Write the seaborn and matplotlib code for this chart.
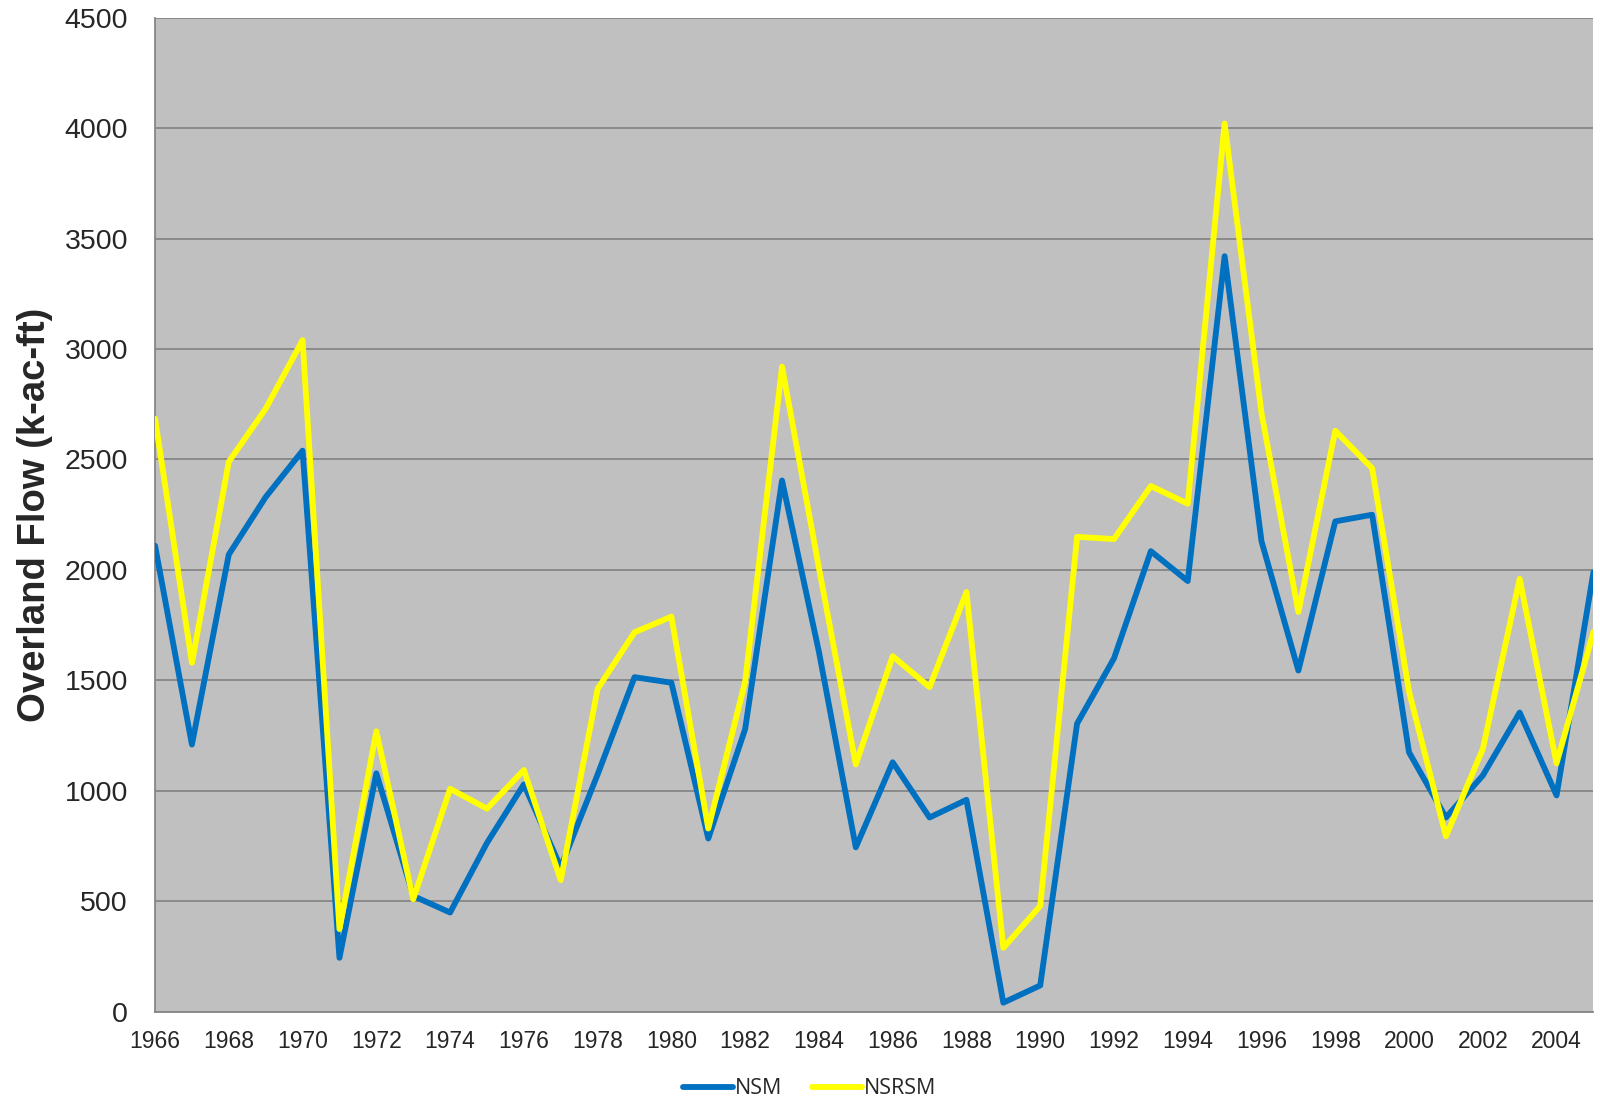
import matplotlib
matplotlib.use("Agg")
import matplotlib.pyplot as plt
import seaborn as sns
import pandas as pd
from matplotlib.lines import Line2D

# Annual overland flow, thousand acre-feet
years = list(range(1966, 2006))
nsm = [2110, 1210, 2070, 2330, 2540, 245, 1080, 525, 450, 765,
       1030, 655, 1075, 1515, 1490, 785, 1280, 2405, 1630, 745,
       1130, 880, 960, 42, 120, 1305, 1600, 2085, 1950, 3420,
       2130, 1545, 2220, 2250, 1175, 880, 1070, 1355, 980, 1990]
nsrsm = [2685, 1580, 2490, 2730, 3040, 375, 1270, 510, 1010, 920,
         1095, 597, 1462, 1718, 1789, 830, 1495, 2920, 2010, 1120,
         1610, 1470, 1900, 290, 480, 2150, 2140, 2380, 2300, 4020,
         2710, 1810, 2630, 2460, 1450, 795, 1190, 1960, 1125, 1720]
series_names = ["NSM", "NSRSM"]
series_colors = ["#0070C0", "#FFFF00"]
y_ticks = list(range(0, 4501, 500))
x_label_years = list(range(1966, 2005, 2))

df = pd.DataFrame({
    "Year": years * 2,
    "Flow": nsm + nsrsm,
    "Series": [series_names[0]] * len(years) + [series_names[1]] * len(years),
})

sns.set_style("white", {"axes.facecolor": "#C0C0C0"})
plt.rcParams["font.family"] = ["Liberation Sans", "DejaVu Sans"]

fig = plt.figure(figsize=(16, 11.02), dpi=100)
ax = fig.add_axes([0.0969, 0.0817, 0.899, 0.9024])
ax.set_facecolor("#C0C0C0")

sns.lineplot(data=df, x="Year", y="Flow", hue="Series",
             palette=dict(zip(series_names, series_colors)),
             linewidth=4.2, ax=ax, legend=False, zorder=3)

ax.set_xlim(1966, 2005)
ax.set_ylim(0, 4500)
ax.set_yticks(y_ticks)
ax.set_yticklabels([str(v) for v in y_ticks], fontsize=20.5)
ax.set_xticks(years, minor=True)
ax.set_xticks(x_label_years)
ax.set_xticklabels([str(y) for y in x_label_years], fontsize=16.5)
ax.tick_params(axis="y", which="major", length=6.5, width=1.2, color="#868686",
               direction="out", pad=13)
ax.tick_params(axis="x", which="both", length=5, width=1.2, color="#868686",
               direction="out", pad=8)

ax.grid(axis="y", color="#868686", linewidth=1.3, zorder=1)
ax.grid(axis="x", visible=False)
for side in ["top", "right"]:
    ax.spines[side].set_visible(False)
for side in ["left", "bottom"]:
    ax.spines[side].set_color("#868686")
    ax.spines[side].set_linewidth(1.3)

ax.set_xlabel("")
ax.set_ylabel("Overland Flow (k-ac-ft)", fontsize=27.5, fontweight="bold")
ax.yaxis.set_label_coords(-0.071, 0.5)

handles = [Line2D([0], [0], color=c, linewidth=4.2) for c in series_colors]
fig.legend(handles, series_names, loc="center", bbox_to_anchor=(0.506, 0.012),
           ncol=2, frameon=False, handlelength=2.3, columnspacing=1.4,
           handletextpad=0.1, prop={"family": ["Open Sans", "DejaVu Sans"], "size": 15.5})

fig.savefig("out.png", dpi=100)
